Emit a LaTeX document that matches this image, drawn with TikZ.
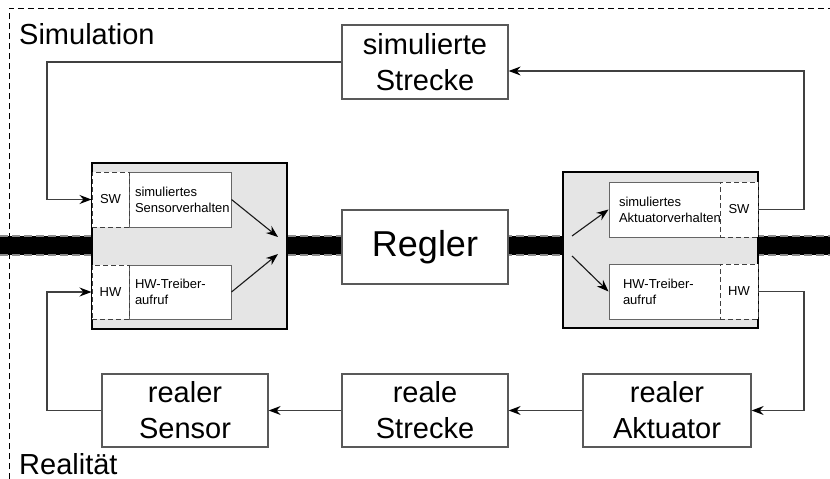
\documentclass[tikz,border=0pt]{standalone}
\usepackage{fontspec}
\setmainfont{Liberation Sans}
\usetikzlibrary{arrows.meta}
\begin{document}
\begin{tikzpicture}[x=1pt,y=-1pt,
  big/.style={font=\fontsize{29}{36}\selectfont},
  small/.style={font=\fontsize{13}{16}\selectfont},
  box/.style={draw=black!65, line width=1.3pt, fill=white, inner sep=0pt, align=center, big},
  greybox/.style={draw=black, line width=1.8pt, fill=black!10, inner sep=0pt},
  inbox/.style={draw=black!60, line width=1pt, fill=white, inner ysep=0pt, align=left, small, minimum height=55pt},
  dbox/.style={draw=black!75, line width=1pt, dash pattern=on 5pt off 3pt, fill=white, inner sep=0pt, small, minimum height=55pt},
  conn/.style={draw=black!75, line width=1.2pt},
  arr/.style={conn, -{Stealth[length=12pt,width=9pt,inset=4pt,color=black]}},
  iarr/.style={draw=black!90, line width=1.1pt, -{Stealth[length=12pt,width=9pt,inset=4pt,color=black]}},
  banddash/.style={draw=black!45, line width=1.4pt, dash pattern=on 8pt off 4pt},
  framedash/.style={draw=black, line width=1pt, dash pattern=on 6pt off 4pt},
  lbl/.style={anchor=base west, inner sep=0pt, big}
]
\useasboundingbox (0,0) rectangle (830,479);
% outer frame
\draw[framedash] (9,479) -- (9,8) -- (830,8);
% signal band
\fill[black] (0,236) rectangle (830,255);
\draw[banddash] (0,236) -- (830,236);
\draw[banddash] (0,255) -- (830,255);
% labels
\node[lbl] (simL) at (19,44) {Simulation};
\node[lbl] (realL) at (19,474) {Realität};
% main boxes
\node[box, minimum width=166pt, minimum height=74pt] (simS) at (425,62) {simulierte\\Strecke};
\node[box, minimum width=166pt, minimum height=74pt, font=\fontsize{36}{40}\selectfont] (regler) at (425,247) {Regler};
\node[box, minimum width=166pt, minimum height=73pt] (sen) at (185,410.5) {realer\\Sensor};
\node[box, minimum width=166pt, minimum height=73pt] (str) at (425,410.5) {reale\\Strecke};
\node[box, minimum width=168pt, minimum height=73pt] (akt) at (667,410.5) {realer\\Aktuator};
% grey boxes
\node[greybox, minimum width=195pt, minimum height=166pt] (gL) at (189.5,246) {};
\node[greybox, minimum width=195pt, minimum height=156pt] (gR) at (660.5,250) {};
% left inner
\node[inbox, inner xsep=6pt, text width=90pt] (simSens) at (180,199.5) {simuliertes\\Sensorverhalten};
\node[inbox, inner xsep=6pt, text width=90pt, minimum height=54pt] (hwTL) at (180,292) {HW-Treiber-\\aufruf};
\node[dbox, minimum width=37pt] (swL) at (110.5,199.5) {SW};
\node[dbox, minimum width=37pt, minimum height=54pt] (hwL) at (110.5,292) {HW};
% right inner
\node[inbox, inner xsep=10pt, text width=91pt] (simAkt) at (664.5,209.5) {simuliertes\\Aktuatorverhalten};
\node[inbox, inner xsep=14pt, text width=83pt] (hwTR) at (664.5,291.5) {HW-Treiber-\\aufruf};
\node[dbox, minimum width=38pt] (swR) at (739,209.5) {SW};
\node[dbox, minimum width=38pt] (hwR) at (739,291.5) {HW};
% junction coordinates
\coordinate (jL1) at (278,237);
\coordinate (jL2) at (278,254);
\coordinate (jR1) at (572,236);
\coordinate (jR2) at (572,256);
\coordinate (cLT) at (47,62);
\coordinate (cLB) at (47,410.5);
\coordinate (cRT) at (804,71);
\coordinate (cRB) at (804,410.5);
% arrows inside grey boxes
\draw[iarr] (simSens.east) -- (jL1);
\draw[iarr] (hwTL.east) -- (jL2);
\draw[iarr] (jR1) -- (simAkt.west);
\draw[iarr] (jR2) -- (hwTR.west);
% connectors
\draw[arr] (simS.west) -- (cLT) |- (swL.west);
\draw[arr] (swR.east) -| (cRT) -- ([yshift=-9pt]simS.east);
\draw[arr] (hwR.east) -| (cRB) -- (akt.east);
\draw[arr] (akt.west) -- (str.east);
\draw[arr] (str.west) -- (sen.east);
\draw[arr] (sen.west) -- (cLB) |- (hwL.west);
\end{tikzpicture}
\end{document}
